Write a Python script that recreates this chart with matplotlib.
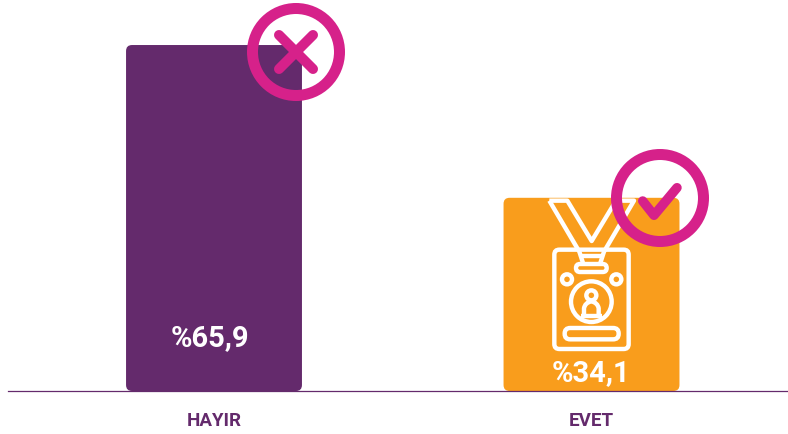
import matplotlib
matplotlib.use("Agg")
import matplotlib.pyplot as plt
from matplotlib.patches import FancyBboxPatch, Circle, Polygon, PathPatch
from matplotlib.path import Path

categories = ["HAYIR", "EVET"]
bar_values = [65.9, 36.8]  # drawn heights
value_labels = ["%65,9", "%34,1"]
bar_colors = ["#642a6c", "#f99d1c"]
label_y_values = [10.2, 3.6]

PURPLE = "#642a6c"
MAGENTA = "#d6218a"
W, H = 788, 435
FONT = "Roboto"
px = 0.72

fig = plt.figure(figsize=(W / 100, H / 100), dpi=100, facecolor="white")
ax = fig.add_axes([8 / W, (H - 392) / H, 780 / W, 392 / H])
ax.set_xlim(-0.5457, 1.5205)
ax.set_ylim(0, 392 / 5.25)
bars = ax.bar(range(len(categories)), bar_values, width=0.466, color="none")
aspect = (1 / 5.25) / (1 / 377.5)
radius = 6 / 377.5
for b, c in zip(bars, bar_colors):
    x, w, h = b.get_x(), b.get_width(), b.get_height()
    ax.add_patch(FancyBboxPatch((x + radius, radius * aspect), w - 2 * radius, h - 2 * radius * aspect,
                                boxstyle=f"round,pad={radius},rounding_size={radius}",
                                mutation_aspect=aspect, fc=c, ec="none", zorder=2))
for s in ["top", "left", "right"]:
    ax.spines[s].set_visible(False)
ax.spines["bottom"].set_color(PURPLE)
ax.spines["bottom"].set_linewidth(0.9)
ax.spines["bottom"].set_zorder(3)
ax.set_yticks([])
ax.set_xticks(range(len(categories)), categories, color=PURPLE, fontsize=13.5,
              fontweight="bold", fontfamily=FONT)
ax.tick_params(axis="x", length=0, pad=14.5)
for i, (t, yv, dx) in enumerate(zip(value_labels, label_y_values, (-4, -1))):
    ax.annotate(t, (i, yv), xytext=(dx * px, 0), textcoords="offset points",
                color="white", ha="center", va="center", fontsize=21,
                fontweight="bold", fontfamily=FONT, zorder=6)

ov = fig.add_axes([0, 0, 1, 1], facecolor="none")
ov.set_xlim(0, W)
ov.set_ylim(H - 1, -1)
ov.axis("off")
ov.set_zorder(5)

def z(x, y):
    return (490 + x / 3, 140 + y / 3)

LW = 4.4 * px
def rrect(x0, y0, x1, y1, r, **kw):
    a, b = z(x0, y0), z(x1, y1)
    ov.add_patch(FancyBboxPatch((a[0] + r, a[1] + r), b[0] - a[0] - 2 * r, b[1] - a[1] - 2 * r,
                                boxstyle=f"round,pad={r},rounding_size={r}",
                                fc=kw.get("fc", "none"), ec="white", lw=LW, zorder=3))

def line(pts, lw=LW, color="white", cap="butt", zo=3, closed=False):
    xy = [z(*p) for p in pts]
    ov.add_patch(Polygon(xy, closed=closed, fc="none", ec=color, lw=lw, capstyle=cap,
                         joinstyle="round", zorder=zo))

# badge
rrect(193, 329, 416, 627, 5)
line([(178, 182), (232, 182), (305, 303), (378, 182), (432, 182), (342, 335), (330, 372)])
line([(178, 182), (268, 335), (280, 372)])
rrect(258, 372, 350, 396, 4)
line([(272, 347), (338, 347)])
rrect(224, 564, 386, 598, 5.5)
for cx, cy, r in [(231, 418, 15), (379, 418, 15), (304, 485, 61), (304, 466, 15)]:
    c = z(cx, cy)
    ov.add_patch(Circle(c, r / 3, fc="none", ec="white", lw=LW, zorder=3))
a = [z(*p) for p in [(282, 525), (282, 505), (285, 488), (304, 484), (323, 488), (326, 505), (326, 525)]]
codes = [Path.MOVETO, Path.LINETO, Path.CURVE3, Path.CURVE3, Path.CURVE3, Path.CURVE3, Path.LINETO]
ov.add_patch(PathPatch(Path(a, codes), fc="none", ec="white", lw=LW, zorder=3))
line([(272, 527), (336, 527)])

# rings
for c in [(296, 52), (660, 198)]:
    ov.add_patch(Circle(c, 43.5, fc="none", ec=MAGENTA, lw=11 * px, zorder=5))
for seg in [[(279, 35), (313, 69)], [(313, 35), (279, 69)]]:
    ov.plot(*zip(*seg), color=MAGENTA, lw=10 * px, solid_capstyle="round", zorder=5)
ov.plot([642.7, 654, 677], [201, 215.3, 187.7], color=MAGENTA, lw=9.5 * px,
        solid_capstyle="round", solid_joinstyle="round", zorder=5)

fig.savefig("out.png", dpi=100)
